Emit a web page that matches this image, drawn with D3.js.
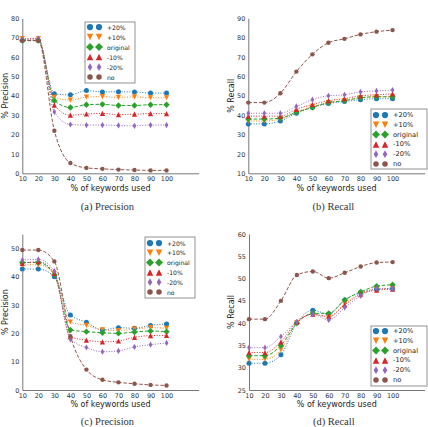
<!DOCTYPE html>
<html><head><meta charset="utf-8">
<script src="https://cdn.jsdelivr.net/npm/d3@7"></script>
<style>body{margin:0;background:#fff}svg{display:block}</style>
</head><body>
<script>
const xVals = [10,20,30,40,50,60,70,80,90,100];
const seriesLabels = ["+20%","+10%","original","-10%","-20%","no"];
const xTicks = [10,20,30,40,50,60,70,80,90,100];

const precisionA = [
  [68.5,68.5,41.0,40.5,42.7,42.0,42.1,42.0,41.4,41.4],
  [69.5,69.5,39.2,37.8,39.3,39.6,39.2,39.4,39.0,39.0],
  [68.5,68.5,37.5,34.0,35.4,35.6,35.0,35.0,35.4,35.4],
  [69.3,69.3,35.2,30.0,30.6,30.9,30.3,30.5,30.8,30.8],
  [69.0,69.5,31.7,25.2,24.9,24.9,24.7,24.5,24.9,24.9],
  [68.5,68.5,22.0,5.3,2.8,2.3,1.9,1.7,1.5,1.5]
];
const recallB = [
  [35.5,35.5,37.0,41.0,44.0,46.0,47.0,48.0,48.5,48.5],
  [37.0,37.0,38.0,41.5,44.5,46.5,47.5,49.0,49.5,49.5],
  [38.0,38.0,38.5,41.5,44.0,46.5,47.5,49.0,49.5,49.5],
  [39.5,39.5,39.5,43.0,45.5,47.5,48.5,50.0,50.5,51.0],
  [41.0,41.0,41.0,44.5,48.0,50.0,50.5,52.0,52.5,53.0],
  [46.5,46.5,51.3,62.5,71.4,77.4,79.4,81.7,83.1,83.9]
];
const precisionC = [
  [42.7,42.7,40.0,26.5,23.9,21.2,22.0,21.8,22.8,23.3],
  [44.2,44.2,41.0,24.0,22.8,21.2,21.0,21.5,22.0,21.8],
  [45.0,45.0,40.7,21.2,20.6,20.2,20.0,20.5,20.8,20.6],
  [44.7,45.3,41.2,18.8,17.6,17.0,17.3,18.6,19.2,19.3],
  [45.9,46.1,42.0,17.9,15.0,13.5,13.8,15.2,16.0,16.6],
  [49.4,49.4,45.4,19.0,7.2,3.6,2.7,2.2,1.8,1.6]
];
const recallD = [
  [31.0,31.0,32.9,40.1,42.9,42.0,45.2,46.9,47.6,47.8],
  [31.9,31.9,34.0,40.1,42.0,41.3,44.4,46.7,47.6,47.8],
  [32.7,32.7,35.0,40.0,42.2,42.2,45.2,47.0,48.3,48.6],
  [33.4,33.4,35.8,40.3,42.0,41.5,44.1,46.5,47.4,47.6],
  [34.5,34.5,37.0,40.3,42.0,40.7,43.5,46.1,47.8,47.8],
  [40.9,40.9,45.0,50.8,51.6,50.1,51.3,52.7,53.6,53.7]
];
const yTicksA = [0,10,20,30,40,50,60,70,80];
const yTicksB = [10,20,30,40,50,60,70,80,90];
const yTicksC = [0,10,20,30,40,50];
const yTicksD = [25,30,35,40,45,50,55,60];
const captions = ["(a) Precision","(b) Recall","(c) Precision","(d) Recall"];

// styles
const colors = ["#1f77b4","#ff7f0e","#2ca02c","#d62728","#9467bd","#8c564b"];
const dashes = ["1,1.6","1,1.6","3.5,1.8","1,1.6","1,1.6","3.5,1.8"];
const markers = ["circle","tdown","diamond","tup","thin","circle"];
const msize = [2.5,2.6,3.2,2.6,3.1,2.2];

function markerPath(type, r){
  const p = d3.path();
  if(type==="circle"){ p.arc(0,0,r,0,2*Math.PI); }
  else if(type==="tdown"){ p.moveTo(0,r); p.lineTo(-r,-r); p.lineTo(r,-r); p.closePath(); }
  else if(type==="tup"){ p.moveTo(0,-r); p.lineTo(-r,r); p.lineTo(r,r); p.closePath(); }
  else if(type==="diamond"){ p.moveTo(0,-r); p.lineTo(r,0); p.lineTo(0,r); p.lineTo(-r,0); p.closePath(); }
  else if(type==="thin"){ p.moveTo(0,-r); p.lineTo(r*0.6,0); p.lineTo(0,r); p.lineTo(-r*0.6,0); p.closePath(); }
  return p.toString();
}

const W=428,H=427;
const svg = d3.select("body").append("svg").attr("width",W).attr("height",H);
const font = "DejaVu Sans";

const panels = [
  {data:precisionA, ticks:yTicksA, ydom:[0,80], xr:[22.3,198.6], yr:[173.3,18.3], ylabel:"% Precision", ylx:5.5,
   leg:{x:85,y:22,w:50,h:61,dy:10,first:5,fs:6.1}, xlabY:191, capY:210, cap:captions[0]},
  {data:recallB, ticks:yTicksB, ydom:[10,90], xr:[248.3,424.6], yr:[173.3,18.3], ylabel:"% Recall", ylx:231.5,
   leg:{x:371,y:109,w:56,h:60,dy:9.8,first:6,fs:6.7}, xlabY:191, capY:210, cap:captions[1]},
  {data:precisionC, ticks:yTicksC, ydom:[0,55], xr:[22.3,198.6], yr:[390,234.2], ylabel:"% Precision", ylx:5.5,
   leg:{x:145,y:237,w:50,h:61,dy:9.8,first:6,fs:6.1}, xlabY:407, capY:425, cap:captions[2]},
  {data:recallD, ticks:yTicksD, ydom:[25,60], xr:[249,424.5], yr:[390,234], ylabel:"% Recall", ylx:231.5,
   leg:{x:371,y:326,w:56,h:60,dy:9.8,first:5,fs:6.7}, xlabY:407, capY:425, cap:captions[3]}
];

panels.forEach(P=>{
  const g = svg.append("g");
  const x = d3.scaleLinear().domain([10,120]).range(P.xr);
  const y = d3.scaleLinear().domain(P.ydom).range(P.yr);

  const xa = g.append("g").attr("transform",`translate(0,${P.yr[0]})`)
    .call(d3.axisBottom(x).tickValues(xTicks).tickSize(0).tickPadding(3.5).tickFormat(d3.format("d")));
  const ya = g.append("g").attr("transform",`translate(${P.xr[0]},0)`)
    .call(d3.axisLeft(y).tickValues(P.ticks).tickSize(0).tickPadding(3).tickFormat(d3.format("d")));
  [xa,ya].forEach(a=>{
    a.select(".domain").attr("stroke","#555").attr("stroke-width",0.8);
    a.selectAll("text").attr("font-family",font).attr("font-size",6.5).attr("fill","#333");
  });

  const line = d3.line().x((d,i)=>x(xVals[i])).y(d=>y(d)).curve(d3.curveMonotoneX);
  P.data.forEach((s,k)=>{
    g.append("path").attr("d",line(s)).attr("fill","none").attr("stroke",colors[k])
      .attr("stroke-width",1).attr("stroke-dasharray",dashes[k]);
  });
  P.data.forEach((s,k)=>{
    g.append("g").selectAll("path").data(s).join("path")
      .attr("transform",(d,i)=>`translate(${x(xVals[i])},${y(d)})`)
      .attr("d",markerPath(markers[k],msize[k])).attr("fill",colors[k]);
  });

  g.append("text").attr("x",(P.xr[0]+P.xr[1])/2).attr("y",P.xlabY).attr("text-anchor","middle")
    .attr("font-family",font).attr("font-size",8).attr("fill","#222").text("% of keywords used");
  const yc=(P.yr[0]+P.yr[1])/2;
  g.append("text").attr("transform",`translate(${P.ylx},${yc}) rotate(-90)`).attr("text-anchor","middle")
    .attr("dominant-baseline","central").attr("font-family",font).attr("font-size",8).attr("fill","#222").text(P.ylabel);
  g.append("text").attr("x",(P.xr[0]+P.xr[1])/2 - 3).attr("y",P.capY).attr("text-anchor","middle")
    .attr("font-family","Liberation Serif").attr("font-size",10.5).attr("fill","#333").text(P.cap);

  const L=P.leg;
  const lg = g.append("g");
  lg.append("rect").attr("x",L.x).attr("y",L.y).attr("width",L.w).attr("height",L.h)
    .attr("fill","#fff").attr("stroke","#888").attr("stroke-width",0.9);
  seriesLabels.forEach((lab,k)=>{
    const ry = L.y+L.first+k*L.dy;
    [5,14].forEach(off=>{
      lg.append("path").attr("transform",`translate(${L.x+off},${ry})`)
        .attr("d",markerPath(markers[k],msize[k]*1.25)).attr("fill",colors[k]);
    });
    lg.append("text").attr("x",L.x+22).attr("y",ry).attr("dominant-baseline","central")
      .attr("font-family",font).attr("font-size",L.fs).attr("fill","#222").text(lab);
  });
});
</script>
</body></html>
